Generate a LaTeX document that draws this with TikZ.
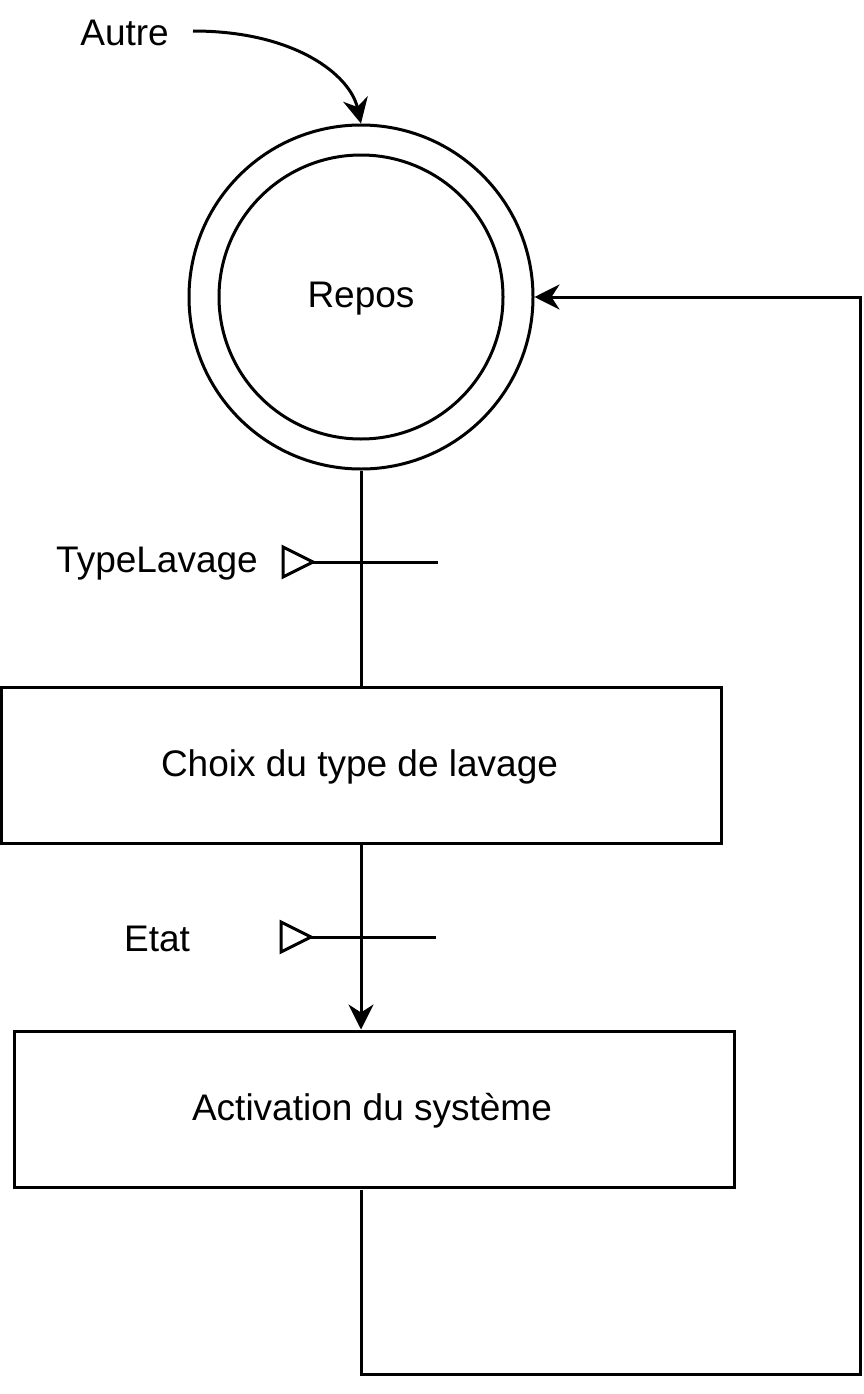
\documentclass[tikz,border=0pt]{standalone}
\usepackage{fontspec}
\setmainfont{Liberation Sans}
\usetikzlibrary{arrows.meta}
\begin{document}
\begin{tikzpicture}[x=1pt,y=-1pt,
  every node/.style={font=\fontsize{37}{44}\selectfont},
  ln/.style={line width=3pt},
  arr/.style={ln,-{Stealth[length=25pt,width=25pt,inset=8pt]}},
  box/.style={draw,line width=3pt,minimum width=720pt,minimum height=156pt,inner sep=0pt},
  circ/.style={draw,circle,line width=3pt,inner sep=0pt},
  lbl/.style={inner sep=0pt},
  tri/.style={line width=3pt,line join=miter}
]
\useasboundingbox (0,0) rectangle (863,1394);
% states
\node[circ,minimum size=344pt] (outer) at (361,297) {};
\node[circ,minimum size=284pt] (inner) at (361,297) {};
\node[lbl] (repos) at (361,299) {Repos};
\node[box] (choix) at (361.5,765) {};
\node[lbl] (choixt) at (359.5,767) {Choix du type de lavage};
\node[box] (activ) at (374,1109) {};
\node[lbl] (activt) at (372,1111) {Activation du système};
% Autre
\node[lbl,anchor=east] (autre) at (169,33) {Autre};
\coordinate (autreS) at (193,31);
\draw[arr] (autreS) .. controls (295,31) and (350,75) .. (outer.north);
% transition 1
\draw[ln] (outer.south) -- (choix.north -| outer.south);
\coordinate (t1a) at (313,562);
\coordinate (t1b) at (438,562);
\draw[ln] (t1a) -- (t1b);
\draw[tri] (t1a) -- ++(-30,-15) -- ++(0,30) -- cycle;
\node[lbl,anchor=east] (typel) at (258,564) {TypeLavage};
% transition 2
\draw[arr] (choix.south -| outer.south) -- (activ.north -| outer.south);
\coordinate (t2a) at (311,937);
\coordinate (t2b) at (436,937);
\draw[ln] (t2a) -- (t2b);
\draw[tri] (t2a) -- ++(-30,-15) -- ++(0,30) -- cycle;
\node[lbl] (etat) at (157,939) {Etat};
% loop back
\coordinate (ls) at (361,1190);
\coordinate (lb) at (361,1374);
\coordinate (lr) at (860,1374);
\coordinate (lt) at (860,297);
\draw[arr,line join=miter] (ls) -- (lb) -- (lr) -- (lt) -- (outer.east);
\end{tikzpicture}
\end{document}
